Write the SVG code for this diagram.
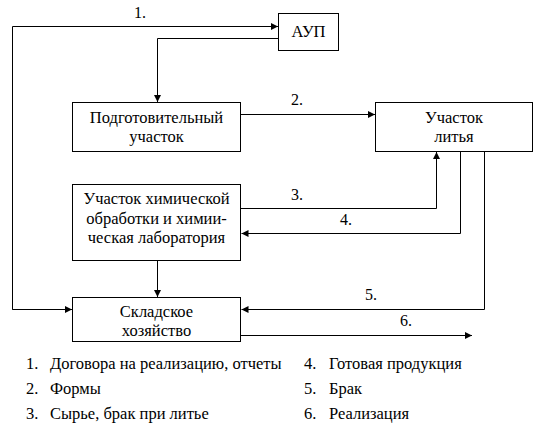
<svg xmlns="http://www.w3.org/2000/svg" width="538" height="429" viewBox="0 0 538 429">
<defs>
<marker id="a" viewBox="0 0 10 10" refX="10" refY="5" markerWidth="8" markerHeight="7" markerUnits="userSpaceOnUse" orient="auto">
<path d="M0,0L10,5L0,10z" fill="#000"/>
</marker>
</defs>
<rect width="538" height="429" fill="#fff"/>
<g id="connectors" fill="none" stroke="#000" stroke-width="1">
<path d="M72.5,309.5H12.5V26.5H278" marker-end="url(#a)"/>
<path d="M278,38.5H157.5V102" marker-end="url(#a)"/>
<path d="M241,114.5H375" marker-end="url(#a)"/>
<path d="M241,208.5H436.5V152" marker-end="url(#a)"/>
<path d="M460.5,152V233.5H241.5" marker-end="url(#a)"/>
<path d="M157.5,260V297" marker-end="url(#a)"/>
<path d="M12.5,309.5H72" marker-end="url(#a)"/>
<path d="M484.5,152V309.5H241.5" marker-end="url(#a)"/>
<path d="M241,335.5H472" marker-end="url(#a)"/>
</g>
<g id="labels" fill="#000" stroke="none" text-anchor="middle">
<text x="140" y="18" font-family="Liberation Serif" font-size="16">1.</text>
<text x="297" y="105" font-family="Liberation Serif" font-size="16">2.</text>
<text x="297" y="200" font-family="Liberation Serif" font-size="16">3.</text>
<text x="346" y="225" font-family="Liberation Serif" font-size="16">4.</text>
<text x="371" y="300" font-family="Liberation Serif" font-size="16">5.</text>
<text x="406" y="326" font-family="Liberation Serif" font-size="16">6.</text>
</g>
<g id="aup">
<rect x="278.5" y="13.5" width="60" height="37" fill="#fff" stroke="#000"/>
<text x="308.5" y="37" text-anchor="middle" font-family="Liberation Serif" font-size="16.5">АУП</text>
</g>
<g id="podg">
<rect x="72.5" y="102.5" width="168" height="49" fill="#fff" stroke="#000"/>
<text x="156.5" y="123" text-anchor="middle" font-family="Liberation Serif" font-size="16.5">Подготовительный</text>
<text x="156.5" y="142" text-anchor="middle" font-family="Liberation Serif" font-size="16.5">участок</text>
</g>
<g id="lit">
<rect x="375.5" y="102.5" width="157" height="49" fill="#fff" stroke="#000"/>
<text x="454" y="123" text-anchor="middle" font-family="Liberation Serif" font-size="16.5">Участок</text>
<text x="454" y="142" text-anchor="middle" font-family="Liberation Serif" font-size="16.5">литья</text>
</g>
<g id="chem">
<rect x="72.5" y="184.5" width="168" height="76" fill="#fff" stroke="#000"/>
<text x="156.5" y="204" text-anchor="middle" font-family="Liberation Serif" font-size="16.5">Участок химической</text>
<text x="156.5" y="224" text-anchor="middle" font-family="Liberation Serif" font-size="16.5">обработки и химии-</text>
<text x="156.5" y="243" text-anchor="middle" font-family="Liberation Serif" font-size="16.5">ческая лаборатория</text>
</g>
<g id="sklad">
<rect x="72.5" y="297.5" width="168" height="44" fill="#fff" stroke="#000"/>
<text x="156.5" y="317" text-anchor="middle" font-family="Liberation Serif" font-size="16.5">Складское</text>
<text x="156.5" y="336" text-anchor="middle" font-family="Liberation Serif" font-size="16.5">хозяйство</text>
</g>
<g id="legend">
<text x="26" y="369" font-family="Liberation Serif" font-size="16.5">1.</text><text x="50" y="369" font-family="Liberation Serif" font-size="16.5">Договора на реализацию, отчеты</text>
<text x="26" y="394" font-family="Liberation Serif" font-size="16.5">2.</text><text x="50" y="394" font-family="Liberation Serif" font-size="16.5">Формы</text>
<text x="26" y="419" font-family="Liberation Serif" font-size="16.5">3.</text><text x="50" y="419" font-family="Liberation Serif" font-size="16.5">Сырье, брак при литье</text>
<text x="304" y="369" font-family="Liberation Serif" font-size="16.5">4.</text><text x="329" y="369" font-family="Liberation Serif" font-size="16.5">Готовая продукция</text>
<text x="304" y="394" font-family="Liberation Serif" font-size="16.5">5.</text><text x="329" y="394" font-family="Liberation Serif" font-size="16.5">Брак</text>
<text x="304" y="419" font-family="Liberation Serif" font-size="16.5">6.</text><text x="329" y="419" font-family="Liberation Serif" font-size="16.5">Реализация</text>
</g>
</svg>
